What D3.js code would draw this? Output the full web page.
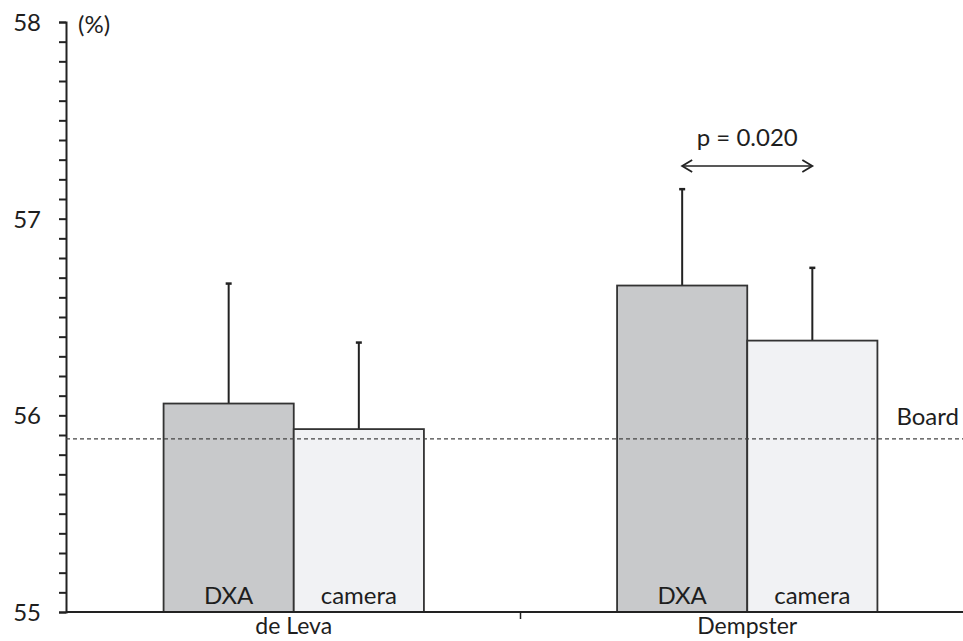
<!DOCTYPE html>
<html>
<head>
<meta charset="utf-8">
<script src="https://cdn.jsdelivr.net/npm/d3@7"></script>
<style>
  body { margin: 0; background: #fff; }
  text { font-family: Lato, "Open Sans", sans-serif; fill: #1e1e1e; }
</style>
</head>
<body>
<div id="chart"></div>
<script>
// data
var models = ["de Leva", "Dempster"];
var methods = ["DXA", "camera"];
var means = [[56.06, 55.93], [56.66, 56.38]];
var sds = [[0.61, 0.44], [0.49, 0.37]];
var boardValue = 55.88;
var yTicks = [55, 56, 57, 58];
var pLabel = "p = 0.020";

var width = 963, height = 641;
var x0 = 66, yTop = 22, yBottom = 612;

var svg = d3.select("#chart").append("svg")
    .attr("width", width)
    .attr("height", height);

var y = d3.scaleLinear().domain([55, 58]).range([yBottom, yTop]);

// one band per model, split in two for the methods
var xModel = d3.scaleBand().domain(models).range([x0 + 1, 974]).paddingInner(0).paddingOuter(0);
var xMethod = d3.scaleBand().domain(methods).range([0, xModel.bandwidth()]).paddingOuter(0.742).paddingInner(0);

var fills = {"DXA": "#c8c9cb", "camera": "#f1f2f4"};

// y axis: minor ticks every 0.1
var yAxis = d3.axisLeft(y)
    .tickValues(d3.range(55, 58.001, 0.1))
    .tickSize(7)
    .tickFormat("");
var ya = svg.append("g")
    .attr("transform", "translate(" + x0 + ",0)")
    .call(yAxis);
ya.select(".domain").attr("stroke", "#222").attr("stroke-width", 2);
ya.selectAll(".tick line").attr("stroke", "#222").attr("stroke-width", 2);

svg.append("g").selectAll("text")
    .data(yTicks)
    .enter().append("text")
    .attr("x", 41)
    .attr("y", function(d) { return y(d) + 9; })
    .attr("text-anchor", "end")
    .style("font-size", "24px")
    .text(function(d) { return d; });

svg.append("text")
    .attr("x", 78).attr("y", 33)
    .style("font-size", "24px")
    .text("(%)");

// bars
var rows = [];
models.forEach(function(m, i) {
    methods.forEach(function(k, j) {
        rows.push({model: m, method: k, mean: means[i][j], sd: sds[i][j]});
    });
});

var bars = svg.append("g").selectAll("g")
    .data(rows)
    .enter().append("g")
    .attr("transform", function(d) { return "translate(" + (xModel(d.model) + xMethod(d.method)) + ",0)"; });

bars.append("line")
    .attr("x1", xMethod.bandwidth() / 2)
    .attr("x2", xMethod.bandwidth() / 2)
    .attr("y1", function(d) { return y(d.mean); })
    .attr("y2", function(d) { return y(d.mean + d.sd); })
    .attr("stroke", "#222").attr("stroke-width", 2);

bars.append("line")
    .attr("x1", xMethod.bandwidth() / 2 - 3)
    .attr("x2", xMethod.bandwidth() / 2 + 3)
    .attr("y1", function(d) { return y(d.mean + d.sd); })
    .attr("y2", function(d) { return y(d.mean + d.sd); })
    .attr("stroke", "#222").attr("stroke-width", 2.5);

bars.append("rect")
    .attr("x", 0)
    .attr("y", function(d) { return y(d.mean); })
    .attr("width", xMethod.bandwidth())
    .attr("height", function(d) { return y(55) - y(d.mean); })
    .attr("fill", function(d) { return fills[d.method]; })
    .attr("stroke", "#333").attr("stroke-width", 1.8);

bars.append("text")
    .attr("x", xMethod.bandwidth() / 2)
    .attr("y", yBottom - 8)
    .attr("text-anchor", "middle")
    .style("font-size", "24px")
    .text(function(d) { return d.method; });

// board reference line
svg.append("line")
    .attr("x1", x0).attr("x2", width)
    .attr("y1", y(boardValue)).attr("y2", y(boardValue))
    .attr("stroke", "#444").attr("stroke-width", 1.2)
    .attr("stroke-dasharray", "4,3");

svg.append("text")
    .attr("x", 959).attr("y", y(boardValue) - 14)
    .attr("text-anchor", "end")
    .style("font-size", "24px")
    .text("Board");

// x axis
svg.append("line")
    .attr("x1", x0).attr("x2", width)
    .attr("y1", yBottom).attr("y2", yBottom)
    .attr("stroke", "#222").attr("stroke-width", 2);

svg.append("line")
    .attr("x1", xModel("Dempster")).attr("x2", xModel("Dempster"))
    .attr("y1", yBottom).attr("y2", yBottom + 7)
    .attr("stroke", "#222").attr("stroke-width", 1.5);

svg.append("g").selectAll("text")
    .data(models)
    .enter().append("text")
    .attr("x", function(d) { return xModel(d) + xModel.bandwidth() / 2; })
    .attr("y", 634)
    .attr("text-anchor", "middle")
    .style("font-size", "23px")
    .text(function(d) { return d; });

// significance arrow between Dempster bars
var ax1 = xModel("Dempster") + xMethod("DXA") + xMethod.bandwidth() / 2;
var ax2 = xModel("Dempster") + xMethod("camera") + xMethod.bandwidth() / 2;
var ay = 166;
svg.append("line")
    .attr("x1", ax1 + 1).attr("x2", ax2 - 1)
    .attr("y1", ay).attr("y2", ay)
    .attr("stroke", "#222").attr("stroke-width", 1.5);
svg.append("path")
    .attr("d", "M" + (ax1 + 10) + "," + (ay - 6) + " L" + ax1 + "," + ay + " L" + (ax1 + 10) + "," + (ay + 6))
    .attr("fill", "none").attr("stroke", "#222").attr("stroke-width", 1.8);
svg.append("path")
    .attr("d", "M" + (ax2 - 10) + "," + (ay - 6) + " L" + ax2 + "," + ay + " L" + (ax2 - 10) + "," + (ay + 6))
    .attr("fill", "none").attr("stroke", "#222").attr("stroke-width", 1.8);

svg.append("text")
    .attr("x", (ax1 + ax2) / 2).attr("y", 146)
    .attr("text-anchor", "middle")
    .style("font-size", "24px")
    .text(pLabel);
</script>
</body>
</html>
